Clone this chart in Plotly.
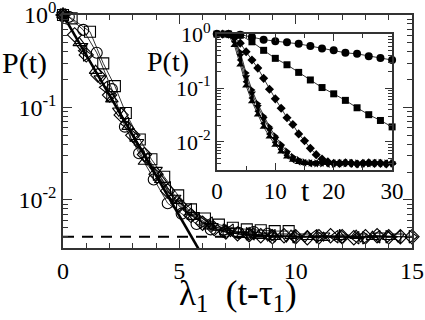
import plotly.graph_objects as go

# ---- main panel data: P(t) against the rescaled time lambda_1 (t - tau_1)
circ_x = [0, 0.25, 0.87, 1.45, 2.1, 2.66, 3.27, 3.9, 4.5, 5.1, 5.74, 6.35, 6.95, 7.55, 8.2, 8.8]
circ_p = [1.0, 0.955, 0.69, 0.39, 0.158, 0.062, 0.032, 0.0166, 0.0092, 0.0071, 0.0055, 0.0048, 0.0045, 0.0044, 0.0045, 0.0043]

sq_x = [0, 0.37, 1.16, 1.73, 2.23, 2.7, 3.3, 3.8, 4.35, 4.95, 5.5, 6.1, 6.7, 7.3, 7.9, 8.5, 9.1, 9.7]
sq_p = [1.0, 0.92, 0.66, 0.30, 0.17, 0.087, 0.045, 0.0275, 0.0178, 0.0112, 0.0079, 0.0063, 0.0054, 0.0050, 0.0048, 0.0047, 0.0046, 0.0046]

dia_x = [0, 0.5, 1, 1.5, 2, 2.5, 3, 3.5, 4, 4.5, 5, 5.5, 6, 6.5, 7, 7.5, 8, 8.5, 9, 9.5,
         10, 10.5, 11, 11.5, 12, 12.5, 13, 13.5, 14, 14.5, 15]
dia_p = [1.0, 0.61, 0.37, 0.224, 0.136, 0.083, 0.050, 0.031, 0.019, 0.0125, 0.0088, 0.0068, 0.0056, 0.0049, 0.0045,
         0.0043, 0.0042, 0.0041, 0.0040, 0.0041, 0.0040, 0.0039, 0.0040, 0.0041, 0.0040, 0.0039, 0.0040, 0.0041,
         0.0040, 0.0040, 0.0040]

tup_x = [0, 0.7, 1.4, 2.1, 2.8, 3.5, 4.2, 4.9, 5.6, 6.3, 7.0, 7.7, 8.4, 9.1, 9.8, 10.5, 11.2, 11.9, 12.6, 13.3, 14.0]
tup_p = [1.0, 0.50, 0.25, 0.123, 0.062, 0.026, 0.0165, 0.0098, 0.0066, 0.0052, 0.0045, 0.0042, 0.0041, 0.0040,
         0.0041, 0.0040, 0.0039, 0.0040, 0.0041, 0.0040, 0.0040]

tdn_x = [0, 0.8, 1.6, 2.4, 3.2, 4.0, 4.8, 5.6, 6.4, 7.2, 8.0, 8.8, 9.6, 10.4, 11.2, 12.0, 12.8, 13.6, 14.4]
tdn_p = [1.0, 0.46, 0.205, 0.092, 0.042, 0.021, 0.0105, 0.0068, 0.0052, 0.0046, 0.0042, 0.0041, 0.0040, 0.0040,
         0.0041, 0.0039, 0.0040, 0.0041, 0.0040]

tlf_x = [0, 0.9, 1.8, 2.7, 3.6, 4.5, 5.4, 6.3, 7.2, 8.1, 9.0, 9.9, 10.8, 11.7, 12.6, 13.5, 14.4]
tlf_p = [1.0, 0.41, 0.165, 0.067, 0.028, 0.0135, 0.0078, 0.0056, 0.0047, 0.0043, 0.0041, 0.0040, 0.0041, 0.0040,
         0.0039, 0.0040, 0.0040]

trt_x = [0, 1, 2, 3, 4, 5, 6, 7, 8, 9, 10, 11, 12, 13, 14, 15]
trt_p = [1.0, 0.37, 0.135, 0.050, 0.019, 0.0085, 0.0057, 0.0047, 0.0043, 0.0041, 0.0040, 0.0040, 0.0041, 0.0039,
         0.0040, 0.0040]

fit_x = [0, 6]
fit_p = [1.0, 0.00248]
floor_x = [0, 15]
floor_p = [0.004, 0.004]

# ---- inset data: raw P(t)
t_two = [0, 2, 4, 6, 8, 10, 12, 14, 16, 18, 20, 22, 24, 26, 28, 30]
t_one = [0, 1, 2, 3, 4, 5, 6, 7, 8, 9, 10, 11, 12, 13, 14, 15, 16, 17, 18, 19, 20,
         21, 22, 23, 24, 25, 26, 27, 28, 29, 30]

in_circ = [1.0, 1.0, 0.977, 0.88, 0.79, 0.74, 0.71, 0.66, 0.60, 0.54, 0.50, 0.45, 0.43, 0.39, 0.36, 0.33]
in_sq = [1.0, 1.0, 0.955, 0.72, 0.50, 0.355, 0.27, 0.195, 0.141, 0.102, 0.078, 0.059, 0.043, 0.032, 0.025, 0.019]
in_dia = [1.0, 1.0, 1.0, 0.89, 0.68, 0.47, 0.33, 0.234, 0.151, 0.095, 0.063, 0.042, 0.028, 0.021, 0.0141, 0.0105,
          0.0076, 0.0058, 0.0048, 0.0043, 0.0040, 0.0040, 0.0041, 0.0040, 0.0039, 0.0040, 0.0041, 0.0040, 0.0040,
          0.0039, 0.0040]
in_tup = [1.0, 1.0, 0.95, 0.62, 0.27, 0.11, 0.056, 0.032, 0.019, 0.0125, 0.0088, 0.0066, 0.0053, 0.0046, 0.0042,
          0.0040, 0.0040, 0.0039, 0.0041, 0.0040, 0.0040, 0.0039, 0.0040, 0.0041, 0.0040, 0.0040, 0.0039, 0.0040,
          0.0041, 0.0040, 0.0040]
in_tlf = [1.0, 1.0, 0.98, 0.72, 0.33, 0.13, 0.065, 0.037, 0.022, 0.014, 0.0098, 0.0072, 0.0056, 0.0047, 0.0043,
          0.0041, 0.0040, 0.0040, 0.0041, 0.0039, 0.0040, 0.0040, 0.0041, 0.0040, 0.0039, 0.0040, 0.0040, 0.0041,
          0.0040, 0.0040, 0.0040]
in_tdn = [1.0, 1.0, 0.99, 0.80, 0.40, 0.16, 0.080, 0.045, 0.027, 0.017, 0.0115, 0.0082, 0.0062, 0.0050, 0.0045,
          0.0042, 0.0040, 0.0041, 0.0040, 0.0039, 0.0040, 0.0041, 0.0040, 0.0040, 0.0039, 0.0040, 0.0041, 0.0040,
          0.0040, 0.0039, 0.0040]
in_trt = [1.0, 1.0, 0.99, 0.85, 0.46, 0.19, 0.092, 0.051, 0.030, 0.019, 0.0128, 0.0090, 0.0067, 0.0053, 0.0046,
          0.0042, 0.0041, 0.0040, 0.0040, 0.0041, 0.0039, 0.0040, 0.0040, 0.0041, 0.0040, 0.0039, 0.0040, 0.0040,
          0.0041, 0.0040, 0.0040]

FONT = "Liberation Serif"
INK = "black"
FRAME = "#333333"

fig = go.Figure()

# fit line and plateau level in the main panel
fig.add_trace(go.Scatter(x=fit_x, y=fit_p, mode="lines", line=dict(color=INK, width=2.6), showlegend=False))
fig.add_trace(go.Scatter(x=floor_x, y=floor_p, mode="lines",
                         line=dict(color=INK, width=2, dash="11px,8px"), showlegend=False))

main_series = [
    (circ_x, circ_p, "circle-open", 11),
    (sq_x, sq_p, "square-open", 11),
    (dia_x, dia_p, "diamond-open", 11),
    (tup_x, tup_p, "triangle-up-open", 11),
    (tdn_x, tdn_p, "triangle-down-open", 11),
    (tlf_x, tlf_p, "triangle-left-open", 11),
    (trt_x, trt_p, "triangle-right-open", 11),
]
for xs, ps, sym, size in main_series:
    fig.add_trace(go.Scatter(
        x=xs, y=ps, mode="lines+markers", cliponaxis=False,
        line=dict(color=INK, width=0.8),
        marker=dict(symbol=sym, size=size, color=INK, line=dict(width=1.1, color=INK)),
        showlegend=False,
    ))

inset_series = [
    (t_two, in_circ, "circle", 8),
    (t_two, in_sq, "square", 7),
    (t_one, in_dia, "diamond", 7),
    (t_one, in_tup, "triangle-up", 7),
    (t_one, in_tlf, "triangle-left", 7),
    (t_one, in_tdn, "triangle-down", 7),
    (t_one, in_trt, "triangle-right", 7),
]
for xs, ps, sym, size in inset_series:
    fig.add_trace(go.Scatter(
        x=xs, y=ps, xaxis="x2", yaxis="y2", mode="lines+markers", cliponaxis=False,
        line=dict(color=INK, width=0.8),
        marker=dict(symbol=sym, size=size, color=INK),
        showlegend=False,
    ))

decades = [1, 0.1, 0.01]
dec_text = ["10<sup>0</sup>", "10<sup>-1</sup>", "10<sup>-2</sup>"]
minor_log = [m * d for d in [0.1, 0.01, 0.001] for m in range(2, 10)]

axis_common = dict(showline=True, linecolor=FRAME, linewidth=1.5, mirror="allticks", automargin=False,
                   ticklabeloverflow="allow", ticks="inside", tickcolor=FRAME, tickwidth=1.2,
                   showgrid=False, zeroline=False)

fig.update_layout(
    width=425, height=320,
    margin=dict(l=63, r=13, t=15, b=72, autoexpand=False),
    paper_bgcolor="white", plot_bgcolor="white",
    font=dict(family=FONT, color=INK),
    xaxis=dict(**axis_common, range=[0, 15], tickvals=[0, 5, 10, 15], ticklen=9,
               tickfont=dict(size=24, family=FONT),
               minor=dict(dtick=1, ticks="inside", ticklen=5, tickcolor=FRAME)),
    yaxis=dict(**axis_common, type="log", range=[-2.52, 0], tickvals=decades, ticktext=dec_text,
               ticklen=9, tickfont=dict(size=24, family=FONT),
               minor=dict(tickvals=minor_log, ticks="inside", ticklen=5, tickcolor=FRAME)),
    xaxis2=dict(**axis_common, domain=[0.441, 0.943], anchor="y2", range=[0, 30],
                tickvals=[0, 10, 20, 30], ticklen=7, tickfont=dict(size=23, family=FONT),
                minor=dict(dtick=5, ticks="inside", ticklen=4, tickcolor=FRAME)),
    yaxis2=dict(**axis_common, domain=[0.335, 0.918], anchor="x2", type="log", range=[-2.52, 0],
                tickvals=decades, ticktext=dec_text, ticklen=7, tickfont=dict(size=22, family=FONT),
                minor=dict(tickvals=minor_log, ticks="inside", ticklen=4, tickcolor=FRAME)),
    annotations=[
        dict(text="P(t)", x=-0.109, y=0.794, xref="paper", yref="paper", showarrow=False,
             font=dict(size=30, family=FONT), xanchor="center", yanchor="middle"),
        dict(text="λ<sub>1</sub>  (t-τ<sub>1</sub>)", x=0.5, y=-0.205, xref="paper", yref="paper",
             showarrow=False, font=dict(size=35, family=FONT), xanchor="center", yanchor="middle"),
        dict(text="P(t)", x=0.30, y=0.80, xref="paper", yref="paper", showarrow=False,
             font=dict(size=28, family=FONT), xanchor="center", yanchor="middle"),
        dict(text="t", x=0.695, y=0.245, xref="paper", yref="paper", showarrow=False,
             font=dict(size=30, family=FONT), xanchor="center", yanchor="middle"),
    ],
)

# drop the default page margin so the figure sits flush in the window
fig.write_html("out.html", config={"displayModeBar": False},
               post_script="document.body.style.margin='0';")
